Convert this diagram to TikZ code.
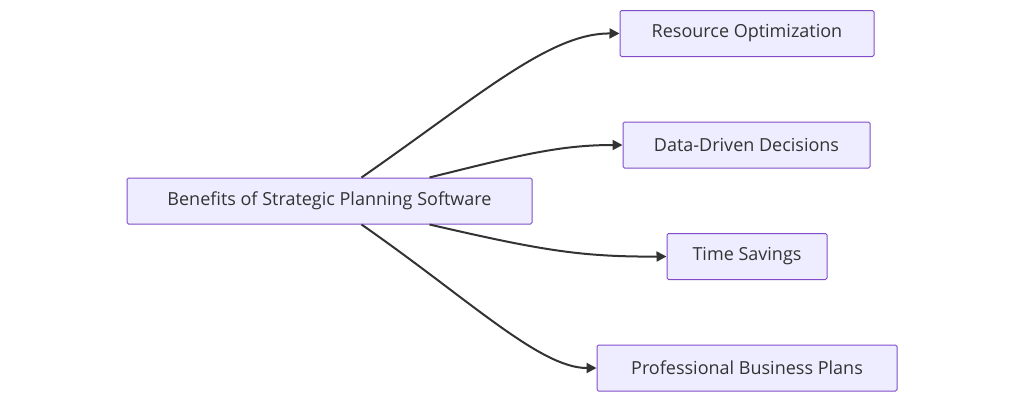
\documentclass[tikz,border=0pt]{standalone}
\usepackage{fontspec}
\setmainfont{Open Sans}
\usetikzlibrary{calc,arrows.meta}

\tikzset{
  box/.style={draw=violet!60!blue!70, fill=blue!7, text=black!80, rounded corners=1.5pt,
    line width=1pt, minimum height=46pt, inner sep=0pt, font=\fontsize{18}{20}\selectfont},
  link/.style={-{Triangle[length=10pt,width=10pt]}, line width=2pt, black!80}
}

\begin{document}
\begin{tikzpicture}[x=1pt,y=-1pt]
  \useasboundingbox (0,0) rectangle (1024,402);
  \node[box, minimum width=405pt] (main) at (329.5,201) {Benefits of Strategic Planning Software};
  \node[box, minimum width=254pt] (res)  at (747,33.5) {Resource Optimization};
  \node[box, minimum width=247pt] (data) at (746.5,145) {Data-Driven Decisions};
  \node[box, minimum width=160pt] (time) at (747,256.5) {Time Savings};
  \node[box, minimum width=300pt] (prof) at (747,368) {Professional Business Plans};
  % start points on the main box
  \coordinate (s1) at ($(main.north west)+(235,0)$);
  \coordinate (s2) at ($(main.north west)+(303,0)$);
  \coordinate (s3) at ($(main.south west)+(303,0)$);
  \coordinate (s4) at ($(main.south west)+(235,0)$);
  \draw[link] (s1) .. controls (480,95) and (550,33) .. (res.west);
  \draw[link] (s2) .. controls (520,155) and (560,145) .. (data.west);
  \draw[link] (s3) .. controls (540,250) and (580,257) .. (time.west);
  \draw[link] (s4) .. controls (470,300) and (540,368) .. (prof.west);
\end{tikzpicture}
\end{document}
